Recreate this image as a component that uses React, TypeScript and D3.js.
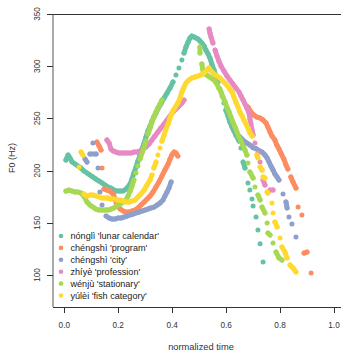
import React from "react";
import * as d3 from "d3";

const W = 341;
const H = 353;

const xTickValues = [0, 0.2, 0.4, 0.6, 0.8, 1.0];
const yTickValues = [100, 150, 200, 250, 300, 350];

const wordLabels = [
  "nónglì 'lunar calendar'",
  "chéngshì 'program'",
  "chéngshì 'city'",
  "zhíyè 'profession'",
  "wénjù 'stationary'",
  "yúlèi 'fish category'",
];

const wordColors = ["#66C2A5", "#FC8D62", "#8DA0CB", "#E78AC3", "#A6D854", "#FFD92F"];

// [normalized time, F0 in Hz]
const nongliF0: [number, number][] = [
  [0.006, 210.1], [0.014, 214.9], [0.021, 212.1], [0.029, 208.2], [0.04, 206.3], [0.051, 204.4],
  [0.062, 202.5], [0.073, 199.6], [0.084, 197.7], [0.095, 195.8], [0.106, 193.9], [0.117, 191.9],
  [0.129, 190.0], [0.14, 188.1], [0.151, 186.2], [0.162, 184.3], [0.173, 183.3], [0.184, 181.4],
  [0.195, 180.4], [0.207, 180.4], [0.218, 180.4], [0.229, 182.4], [0.236, 184.3], [0.244, 187.2],
  [0.251, 191.9], [0.258, 197.7], [0.266, 203.4], [0.273, 209.2], [0.281, 214.9], [0.288, 220.7],
  [0.296, 226.4], [0.303, 232.2], [0.31, 237.9], [0.318, 242.7], [0.325, 247.5], [0.332, 251.3],
  [0.34, 255.2], [0.347, 259.0], [0.358, 263.8], [0.37, 269.5], [0.381, 274.3], [0.392, 279.1],
  [0.403, 284.9], [0.414, 291.6], [0.425, 298.3], [0.436, 305.9], [0.444, 312.6], [0.451, 318.4],
  [0.459, 323.2], [0.466, 327.0], [0.473, 328.9], [0.481, 328.0], [0.488, 327.0], [0.496, 326.1],
  [0.503, 324.1], [0.51, 322.2], [0.518, 319.3], [0.525, 315.5], [0.533, 311.7], [0.54, 307.8],
  [0.547, 302.1], [0.555, 296.4], [0.562, 290.6], [0.57, 284.9], [0.577, 278.1], [0.585, 271.4],
  [0.592, 264.7], [0.599, 258.0], [0.607, 252.3], [0.614, 246.5], [0.622, 241.7], [0.629, 237.9],
  [0.636, 234.1], [0.648, 228.3], [0.655, 221.6], [0.663, 208.2], [0.67, 202.5], [0.681, 188.1],
  [0.688, 181.4], [0.696, 172.8], [0.7, 166.1], [0.711, 155.5], [0.718, 143.1], [0.726, 130.0],
  [0.737, 112.4],
];

const chengshiProgramF0: [number, number][] = [
  [0.121, 227.4], [0.129, 223.6], [0.136, 219.7], [0.14, 202.5],
  [0.147, 182.4], [0.158, 181.4], [0.169, 180.4], [0.181, 177.6], [0.188, 172.8], [0.195, 167.0],
  [0.207, 163.2], [0.218, 161.3], [0.229, 160.3], [0.24, 160.3], [0.251, 161.3], [0.262, 162.2],
  [0.273, 164.2], [0.284, 167.0], [0.296, 169.9], [0.307, 172.8], [0.318, 175.7], [0.329, 179.5],
  [0.34, 184.3], [0.351, 189.1], [0.362, 194.8], [0.373, 200.6], [0.385, 206.3], [0.392, 211.1],
  [0.399, 214.9], [0.407, 217.8], [0.414, 216.8], [0.421, 214.0],
  [0.681, 260.9], [0.692, 256.1], [0.703, 253.2], [0.714, 251.3], [0.725, 250.4], [0.737, 248.5],
  [0.748, 245.6], [0.755, 241.8], [0.763, 236.9], [0.77, 233.1], [0.781, 229.3], [0.788, 224.5],
  [0.796, 220.7], [0.803, 216.8], [0.814, 211.1], [0.822, 205.4], [0.829, 201.5], [0.84, 193.9],
  [0.848, 189.1], [0.859, 183.3], [0.867, 165.1], [0.881, 157.5], [0.889, 121.0], [0.9, 122.0],
  [0.915, 101.9],
];

const chengshiCityF0: [number, number][] = [
  [0.106, 226.4], [0.095, 215.9], [0.118, 215.9], [0.077, 211.1], [0.084, 208.2], [0.125, 202.5],
  [0.132, 179.5], [0.14, 167.0],
  [0.155, 156.5], [0.166, 154.6], [0.177, 153.6], [0.188, 153.6], [0.199, 154.6], [0.21, 154.6],
  [0.221, 155.5], [0.233, 156.5], [0.244, 157.5], [0.255, 158.4], [0.266, 159.4], [0.277, 160.3],
  [0.288, 161.3], [0.299, 162.2], [0.31, 163.2], [0.321, 164.2], [0.333, 165.1], [0.344, 167.0],
  [0.355, 168.9], [0.366, 171.8], [0.373, 175.7], [0.381, 179.5], [0.388, 183.3], [0.396, 189.1],
  [0.633, 238.9], [0.644, 234.1], [0.655, 231.2], [0.666, 228.3], [0.677, 226.4], [0.688, 224.5],
  [0.7, 222.0], [0.711, 221.0], [0.722, 219.1], [0.733, 217.8], [0.744, 214.9], [0.752, 212.1],
  [0.759, 208.2], [0.766, 204.4], [0.774, 200.6], [0.781, 196.7], [0.789, 193.9], [0.796, 191.0],
  [0.811, 177.6], [0.822, 169.9], [0.826, 164.2], [0.833, 155.5], [0.844, 148.8], [0.859, 136.4],
];

const zhiyeF0: [number, number][] = [
  [0.158, 229.3], [0.166, 226.4],
  [0.173, 220.7], [0.181, 218.8], [0.192, 217.8], [0.203, 216.8], [0.214, 216.8], [0.225, 216.8],
  [0.236, 216.8], [0.247, 216.8], [0.258, 217.8], [0.27, 217.8], [0.281, 218.8], [0.292, 220.7],
  [0.303, 222.6], [0.314, 225.5], [0.325, 229.3], [0.336, 233.1], [0.347, 237.0], [0.358, 240.8],
  [0.37, 244.6], [0.381, 248.5], [0.392, 252.3], [0.403, 256.1], [0.414, 259.0], [0.425, 261.9],
  [0.436, 264.7], [0.444, 267.6],
  [0.537, 335.6], [0.54, 331.8], [0.544, 328.0], [0.551, 322.2], [0.559, 315.5], [0.566, 309.8],
  [0.573, 305.0], [0.581, 300.2], [0.592, 295.4], [0.603, 290.6], [0.614, 286.8], [0.625, 283.0],
  [0.636, 279.1], [0.648, 275.3], [0.655, 271.4], [0.663, 267.6], [0.67, 263.8], [0.677, 260.0],
  [0.685, 255.2], [0.688, 250.4], [0.692, 244.6], [0.696, 238.9], [0.7, 234.1], [0.707, 226.4],
  [0.718, 216.8], [0.726, 208.2], [0.733, 200.6], [0.737, 191.0], [0.744, 186.2], [0.763, 181.4],
  [0.774, 181.4],
];

const wenjuF0: [number, number][] = [
  [0.006, 180.4], [0.017, 181.4], [0.029, 180.4], [0.04, 179.5], [0.051, 179.5], [0.062, 178.5],
  [0.069, 176.6], [0.077, 173.7], [0.084, 169.9], [0.095, 167.0], [0.106, 165.1], [0.117, 163.2],
  [0.129, 162.2], [0.14, 162.2], [0.151, 162.2], [0.162, 162.2], [0.173, 163.2], [0.184, 164.2],
  [0.195, 166.1], [0.207, 168.0], [0.218, 169.9], [0.229, 171.8], [0.236, 175.7], [0.244, 180.4],
  [0.251, 185.2], [0.258, 191.0], [0.266, 197.7], [0.273, 204.4], [0.281, 211.1], [0.288, 216.8],
  [0.296, 222.6], [0.303, 228.3], [0.31, 235.0], [0.318, 240.8], [0.325, 246.5], [0.332, 251.3],
  [0.34, 256.1], [0.347, 260.0], [0.355, 263.8], [0.362, 267.6],
  [0.503, 318.4], [0.503, 312.6], [0.51, 302.1], [0.514, 296.4],
  [0.522, 292.5], [0.533, 290.6], [0.544, 288.7], [0.555, 286.8], [0.566, 282.9], [0.573, 279.1],
  [0.581, 275.3], [0.588, 270.5], [0.596, 265.7], [0.603, 260.9], [0.611, 256.1], [0.618, 251.3],
  [0.625, 246.5], [0.633, 241.8], [0.64, 237.0], [0.648, 232.2], [0.655, 228.3], [0.663, 223.6],
  [0.67, 219.7], [0.677, 214.9], [0.681, 207.3], [0.688, 198.6], [0.7, 192.9], [0.707, 184.3],
  [0.718, 176.6], [0.726, 171.8], [0.733, 165.1], [0.744, 159.4], [0.752, 149.8], [0.755, 140.2],
  [0.763, 138.3], [0.774, 130.6], [0.785, 122.0], [0.796, 116.3], [0.807, 114.3],
];

const yuleiF0: [number, number][] = [
  [0.062, 217.8], [0.069, 214.9], [0.055, 203.4],
  [0.073, 177.6], [0.084, 175.7], [0.095, 176.6], [0.106, 176.6], [0.118, 175.7], [0.129, 174.7],
  [0.14, 173.7], [0.151, 173.7], [0.162, 173.7], [0.173, 172.8], [0.184, 172.8], [0.195, 171.8],
  [0.207, 171.8], [0.218, 170.9], [0.229, 169.9], [0.24, 169.9], [0.251, 170.9], [0.262, 171.8],
  [0.273, 174.7], [0.284, 177.6], [0.296, 181.4], [0.307, 186.2], [0.318, 191.0], [0.325, 195.8],
  [0.332, 202.5], [0.34, 208.2], [0.347, 214.9], [0.355, 221.6], [0.362, 228.3], [0.37, 234.1],
  [0.377, 239.8], [0.385, 244.6], [0.392, 250.4], [0.399, 255.2], [0.407, 259.0], [0.414, 261.9],
  [0.421, 264.7], [0.429, 269.5], [0.436, 275.3], [0.444, 280.1], [0.451, 283.9], [0.462, 286.8],
  [0.473, 288.7], [0.485, 289.7], [0.496, 290.6], [0.507, 291.6], [0.518, 293.5], [0.529, 296.4],
  [0.536, 298.3], [0.544, 295.4], [0.555, 292.5], [0.566, 290.6], [0.577, 288.7], [0.588, 285.8],
  [0.599, 282.9], [0.611, 279.1], [0.622, 275.3], [0.629, 270.5], [0.636, 265.7], [0.644, 260.9],
  [0.651, 256.1], [0.659, 252.3], [0.666, 248.5], [0.674, 244.6], [0.681, 240.8], [0.688, 236.4],
  [0.696, 233.1],
  [0.714, 214.9], [0.718, 212.1], [0.726, 203.4], [0.733, 200.6], [0.737, 193.9], [0.744, 192.9],
  [0.752, 179.5], [0.755, 178.5], [0.77, 169.0], [0.774, 159.4], [0.781, 150.7], [0.789, 146.0],
  [0.8, 135.4], [0.807, 126.8], [0.818, 122.0], [0.826, 116.3], [0.837, 109.6], [0.848, 106.7],
  [0.859, 102.9],
];

const allSeries = [nongliF0, chengshiProgramF0, chengshiCityF0, zhiyeF0, wenjuF0, yuleiF0];

const FONT = "'Liberation Sans', Arial, Helvetica, sans-serif";
const DOT_R = 2.5;

export default function App() {
  const x = d3.scaleLinear().domain([0, 1]).range([64.3, 334]);
  const y = d3.scaleLinear().domain([100, 350]).range([275, 14]);

  const plotLeft = 53;
  const plotBottom = 307;

  // split each series into runs of closely spaced samples so they read as a continuous trace
  const runsOf = (pts: [number, number][]) => {
    const runs: [number, number][][] = [];
    let cur: [number, number][] = [];
    pts.forEach((p, i) => {
      if (i > 0) {
        const q = pts[i - 1];
        const d = Math.hypot(x(p[0]) - x(q[0]), y(p[1]) - y(q[1]));
        if (d > 7) {
          if (cur.length > 1) runs.push(cur);
          cur = [];
        }
      }
      cur.push(p);
    });
    if (cur.length > 1) runs.push(cur);
    return runs;
  };

  const line = d3
    .line<[number, number]>()
    .x((d) => x(d[0]))
    .y((d) => y(d[1]));

  return (
    <svg width={W} height={H} style={{ display: "block", position: "absolute", left: 0, top: 0 }}>
      <rect width={W} height={H} fill="#fff" />

      {allSeries.map((pts, si) => (
        <g key={si} fill={wordColors[si]}>
          {runsOf(pts).map((r, ri) => (
            <path
              key={ri}
              d={line(r) || ""}
              fill="none"
              stroke={wordColors[si]}
              strokeWidth={DOT_R * 2}
              strokeLinecap="round"
              strokeLinejoin="round"
            />
          ))}
          {pts.map((p, pi) => (
            <circle key={pi} cx={x(p[0])} cy={y(p[1])} r={DOT_R} />
          ))}
        </g>
      ))}

      {/* frame */}
      <line x1={47} x2={W} y1={14.5} y2={14.5} stroke="#333" strokeWidth={1} />
      <line x1={plotLeft} x2={plotLeft} y1={14} y2={plotBottom} stroke="#555" strokeWidth={1} />
      <line x1={plotLeft} x2={W} y1={plotBottom + 0.5} y2={plotBottom + 0.5} stroke="#333" strokeWidth={1} />

      {/* y axis */}
      {yTickValues.map((v) => (
        <g key={v}>
          <line x1={47} x2={plotLeft} y1={Math.round(y(v)) + 0.5} y2={Math.round(y(v)) + 0.5} stroke="#333" />
          <text
            transform={`translate(${39.5},${y(v)}) rotate(-90)`}
            textAnchor="middle"
            fontFamily={FONT}
            fontSize={8.2}
            fill="#333"
          >
            {v}
          </text>
        </g>
      ))}
      <text
        transform={`translate(15,${158}) rotate(-90)`}
        textAnchor="middle"
        fontFamily={FONT}
        fontSize={9}
        fill="#333"
      >
        F0 (Hz)
      </text>

      {/* x axis */}
      {xTickValues.map((v) => (
        <g key={v}>
          <line x1={Math.round(x(v)) + 0.5} x2={Math.round(x(v)) + 0.5} y1={plotBottom} y2={plotBottom + 6} stroke="#333" />
          <text x={x(v)} y={327.5} textAnchor="middle" fontFamily={FONT} fontSize={8.2} fill="#333">
            {v.toFixed(1)}
          </text>
        </g>
      ))}
      <text x={201} y={350} textAnchor="middle" fontFamily={FONT} fontSize={9.3} fill="#333">
        normalized time
      </text>

      {/* legend */}
      {wordLabels.map((lab, i) => (
        <g key={lab}>
          <circle cx={61} cy={236 + i * 11.9} r={2.3} fill={wordColors[i]} />
          <text x={70.5} y={236 + i * 11.9} dy="0.35em" fontFamily={FONT} fontSize={9.1} fill="#222">
            {lab}
          </text>
        </g>
      ))}
    </svg>
  );
}
